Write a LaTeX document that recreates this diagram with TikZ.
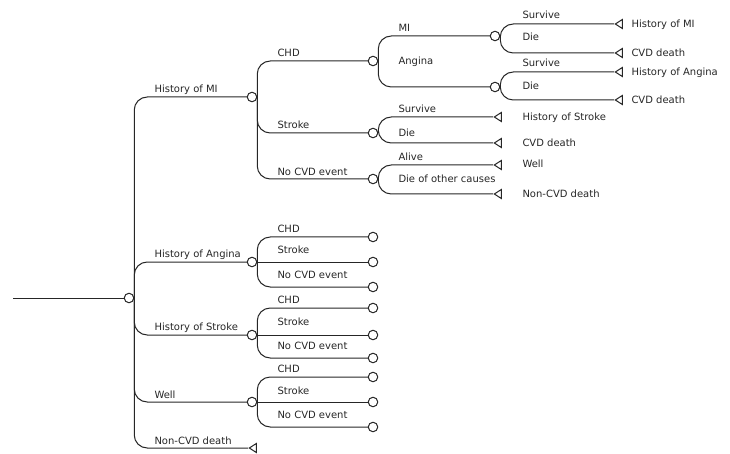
\documentclass[tikz,border=0pt]{standalone}
\usepackage{fontspec}
\setmainfont{DejaVu Sans}
\usepackage{tikz}
\usetikzlibrary{shapes.geometric,positioning}

\tikzset{
  chance/.style={circle, draw, fill=white, minimum size=9.5pt, inner sep=0pt},
  term/.style={isosceles triangle, isosceles triangle stretches, shape border rotate=180,
    draw, fill=white, minimum width=9pt, minimum height=7pt, inner sep=0pt, anchor=apex},
  lbl/.style={anchor=base west, inner sep=0pt, yshift=-3.5pt, font=\fontsize{10}{12}\selectfont},
  branch/.style={rounded corners=13pt},
}

\begin{document}
\begin{tikzpicture}[x=1pt, y=-1pt, line width=1pt, color=black!85]
        \useasboundingbox (0,0) rectangle (730,454);

        % Root
        \coordinate (start) at (13,298);
        \node[chance] (root) at (129,298) {};
        \draw (start) -- (root);

        % First level
        \node[chance] (hmi) at (252,97) {};
        \node[chance] (hang) at (252,262) {};
        \node[chance] (hstr) at (252,335) {};
        \node[chance] (well) at (252,402) {};
        \node[term] (ncvd) at (248,448) {};
        \draw[branch] (root.east) |- (hmi.west);
        \draw[branch] (root.east) |- (hang.west);
        \draw[branch] (root.east) |- (hstr.west);
        \draw[branch] (root.east) |- (well.west);
        \draw[branch] (root.east) |- (ncvd.apex);
        \node[lbl] (l-hmi) at (154,89) {History of MI};
        \node[lbl] (l-hang) at (154,254) {History of Angina};
        \node[lbl] (l-hstr) at (154,327) {History of Stroke};
        \node[lbl] (l-well) at (154,395) {Well};
        \node[lbl] (l-ncvd) at (154,441) {Non-CVD death};

        % History of MI
        \node[chance] (chd) at (373,61) {};
        \node[chance] (str) at (373,133) {};
        \node[chance] (none) at (373,179) {};
        \draw[branch] (hmi.east) |- (chd.west);
        \draw[branch] (hmi.east) |- (str.west);
        \draw[branch] (hmi.east) |- (none.west);
        \node[lbl] (l-chd) at (277,53) {CHD};
        \node[lbl] (l-str) at (277,125) {Stroke};
        \node[lbl] (l-none) at (277,172) {No CVD event};

        % CHD
        \node[chance] (mi) at (495,36) {};
        \node[chance] (ang) at (495,87) {};
        \draw[branch] (chd.east) |- (mi.west);
        \draw[branch] (chd.east) |- (ang.west);
        \node[lbl] (l-mi) at (398,28) {MI};
        \node[lbl] (l-ang) at (398,61) {Angina};

        % MI
        \node[term] (mi-s) at (614,24) {};
        \node[term] (mi-d) at (614,53) {};
        \draw[branch] (mi.east) |- (mi-s.apex);
        \draw[branch] (mi.east) |- (mi-d.apex);
        \node[lbl] (l-mi-s) at (522,15) {Survive};
        \node[lbl] (l-mi-d) at (522,37) {Die};
        \node[lbl] (o-mi-s) at (631,24) {History of MI};
        \node[lbl] (o-mi-d) at (631,53) {CVD death};

        % Angina
        \node[term] (ang-s) at (614,72) {};
        \node[term] (ang-d) at (614,100) {};
        \draw[branch] (ang.east) |- (ang-s.apex);
        \draw[branch] (ang.east) |- (ang-d.apex);
        \node[lbl] (l-ang-s) at (522,63) {Survive};
        \node[lbl] (l-ang-d) at (522,86) {Die};
        \node[lbl] (o-ang-s) at (631,72) {History of Angina};
        \node[lbl] (o-ang-d) at (631,100) {CVD death};

        % Stroke
        \node[term] (str-s) at (493,117) {};
        \node[term] (str-d) at (493,143) {};
        \draw[branch] (str.east) |- (str-s.apex);
        \draw[branch] (str.east) |- (str-d.apex);
        \node[lbl] (l-str-s) at (398,109) {Survive};
        \node[lbl] (l-str-d) at (398,133) {Die};
        \node[lbl] (o-str-s) at (522,117) {History of Stroke};
        \node[lbl] (o-str-d) at (522,143) {CVD death};

        % No CVD event
        \node[term] (none-a) at (493,165) {};
        \node[term] (none-d) at (493,194) {};
        \draw[branch] (none.east) |- (none-a.apex);
        \draw[branch] (none.east) |- (none-d.apex);
        \node[lbl] (l-none-a) at (398,157) {Alive};
        \node[lbl] (l-none-d) at (398,179) {Die of other causes};
        \node[lbl] (o-none-a) at (522,164) {Well};
        \node[lbl] (o-none-d) at (522,194) {Non-CVD death};

        % History of Angina
        \node[chance] (hang-chd) at (373,237) {};
        \node[chance] (hang-str) at (373,262) {};
        \node[chance] (hang-none) at (373,287) {};
        \draw[branch] (hang.east) |- (hang-chd.west);
        \draw (hang.east) -- (hang-str.west);
        \draw[branch] (hang.east) |- (hang-none.west);
        \node[lbl] (l-hang-chd) at (277,229) {CHD};
        \node[lbl] (l-hang-str) at (277,250) {Stroke};
        \node[lbl] (l-hang-none) at (277,275) {No CVD event};

        % History of Stroke
        \node[chance] (hstr-chd) at (373,308) {};
        \node[chance] (hstr-str) at (373,335) {};
        \node[chance] (hstr-none) at (373,358) {};
        \draw[branch] (hstr.east) |- (hstr-chd.west);
        \draw (hstr.east) -- (hstr-str.west);
        \draw[branch] (hstr.east) |- (hstr-none.west);
        \node[lbl] (l-hstr-chd) at (277,300) {CHD};
        \node[lbl] (l-hstr-str) at (277,322) {Stroke};
        \node[lbl] (l-hstr-none) at (277,346) {No CVD event};

        % Well
        \node[chance] (well-chd) at (373,377) {};
        \node[chance] (well-str) at (373,402) {};
        \node[chance] (well-none) at (373,427) {};
        \draw[branch] (well.east) |- (well-chd.west);
        \draw (well.east) -- (well-str.west);
        \draw[branch] (well.east) |- (well-none.west);
        \node[lbl] (l-well-chd) at (277,369) {CHD};
        \node[lbl] (l-well-str) at (277,391) {Stroke};
        \node[lbl] (l-well-none) at (277,415) {No CVD event};
    \end{tikzpicture}
\end{document}
